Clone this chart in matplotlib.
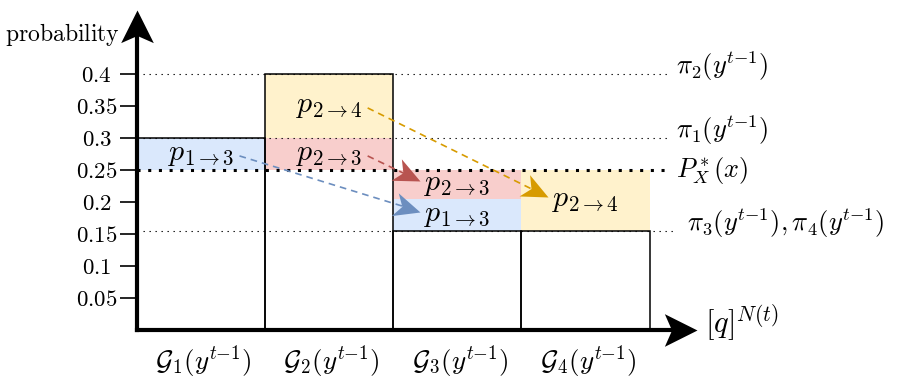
import matplotlib
matplotlib.use("Agg")
import matplotlib.pyplot as plt
import numpy as np
from matplotlib.path import Path
from matplotlib.markers import MarkerStyle
from matplotlib.transforms import Affine2D

plt.rcParams['mathtext.fontset'] = 'cm'
plt.rcParams['font.family'] = ['DejaVu Serif']

# groups of the partition and their prior mass pi_i(y^{t-1})
groups = [r'$\mathcal{G}_1(y^{t{-}1})$', r'$\mathcal{G}_2(y^{t{-}1})$',
          r'$\mathcal{G}_3(y^{t{-}1})$', r'$\mathcal{G}_4(y^{t{-}1})$']
group_heights = [0.3, 0.4, 0.155, 0.155]
level_values = [0.4, 0.3, 0.155]
level_labels = [r'$\pi_2(y^{t{-}1})$', r'$\pi_1(y^{t{-}1})$',
                r'$\pi_3(y^{t{-}1}), \pi_4(y^{t{-}1})$']
p_star = 0.25
p_star_label = r'$P^*_X(x)$'

# moved probability mass segments
seg_bar = [0, 1, 1, 2, 2, 3]
seg_low = [0.25, 0.3, 0.25, 0.205, 0.155, 0.155]
seg_high = [0.3, 0.4, 0.3, 0.25, 0.205, 0.25]
seg_color = ['#dae8fc', '#fff2cc', '#f8cecc', '#f8cecc', '#dae8fc', '#fff2cc']
seg_label = [r'$p_{1\to3}$', r'$p_{2\to4}$', r'$p_{2\to3}$',
             r'$p_{2\to3}$', r'$p_{1\to3}$', r'$p_{2\to4}$']

# flows: source segment -> destination segment
flow_src = [0, 2, 1]
flow_dst = [4, 3, 5]
flow_color = ['#6c8ebf', '#b85450', '#d79b00']

yticks = [0.05, 0.1, 0.15, 0.2, 0.25, 0.3, 0.35, 0.4]

fig = plt.figure(figsize=(9, 3.81), dpi=100)
ax = fig.add_axes([137 / 900, 51 / 381, 583 / 900, 320 / 381])
ax.set_xlim(0, 4.55)
ax.set_ylim(0, 0.5)
for s in ax.spines.values():
    s.set_visible(False)
ax.set_xticks([])
ax.set_yticks(yticks, labels=[f'${v:g}$' for v in yticks])
ax.tick_params(axis='y', length=12.5, width=1.2, pad=16.5, labelsize=16.5)
plt.setp(ax.get_yticklabels(), ha='center')

x = np.arange(len(groups)) + 0.5
seg_x = np.array(seg_bar) + 0.5
seg_mid = (np.array(seg_low) + np.array(seg_high)) / 2

# coloured mass segments
ax.bar(seg_x, np.array(seg_high) - np.array(seg_low), bottom=seg_low, width=1,
       color=seg_color, linewidth=0, zorder=1)

# thin dotted reference levels
x_end = 4.16
for v in level_values:
    end = x_end if v != 0.155 else 4.18
    ax.plot([0, end], [v, v], color='black', lw=0.8, linestyle=(0, (1.2, 4.2)), zorder=2)

# bar outlines
ax.bar(x, group_heights, width=1, fill=False, edgecolor='black', linewidth=1.1, zorder=3)

# P* level
ax.plot([0, x_end], [p_star, p_star], color='black', lw=2.2,
        linestyle=(0, (1, 2.5)), zorder=4)

# labels on segments
for i in range(len(seg_bar)):
    ax.text(seg_x[i], seg_mid[i], seg_label[i], ha='center', va='center',
            fontsize=21.5, zorder=6)

# flow arrows: dashed shaft + concave head
head_path = Path([(0, 0), (-1, 0.45), (-0.72, 0), (-1, -0.45), (0, 0)],
                 [Path.MOVETO, Path.LINETO, Path.LINETO, Path.LINETO, Path.CLOSEPOLY])
for s, d, c in zip(flow_src, flow_dst, flow_color):
    start = (seg_bar[s] + 0.8, seg_mid[s] - 0.003)
    tip = (seg_bar[d] + 0.21, seg_mid[d] + 0.005)
    p0 = ax.transData.transform(start)
    p1 = ax.transData.transform(tip)
    vec = p1 - p0
    ang = np.degrees(np.arctan2(vec[1], vec[0]))
    stop = ax.transData.inverted().transform(p1 - vec / np.hypot(*vec) * 14)
    ax.plot([start[0], stop[0]], [start[1], stop[1]], color=c, lw=1.2,
            linestyle=(0, (4, 3)), zorder=5)
    ax.plot([tip[0]], [tip[1]], marker=MarkerStyle(head_path, transform=Affine2D().rotate_deg(ang)),
            ms=38, color=c, mew=0, zorder=5)

# axes with arrow heads
up = Path([(0, 0), (-0.5, -1), (0, -0.78), (0.5, -1), (0, 0)],
          [Path.MOVETO, Path.LINETO, Path.LINETO, Path.LINETO, Path.CLOSEPOLY])
right = Path([(0, 0), (-1, 0.5), (-0.78, 0), (-1, -0.5), (0, 0)],
             [Path.MOVETO, Path.LINETO, Path.LINETO, Path.LINETO, Path.CLOSEPOLY])
x_tip = 4.37
ax.plot([0, 0], [0, 0.47], color='black', lw=3, solid_capstyle='projecting',
        clip_on=False, zorder=7)
ax.plot([0, x_tip - 0.16], [0, 0], color='black', lw=3, solid_capstyle='projecting',
        clip_on=False, zorder=7)
ax.plot([0], [0.5], marker=up, ms=47, color='black', mew=0, clip_on=False, zorder=8)
ax.plot([x_tip], [0], marker=right, ms=47, color='black', mew=0, clip_on=False, zorder=8)

# axis texts
ax.text(-0.13, 0.462, r'$\mathrm{probability}$', ha='right', va='center', fontsize=17)
ax.text(x_tip + 0.06, 0.012, r'$[q]^{N(t)}$', ha='left', va='center', fontsize=22,
        clip_on=False)
for xi, g in zip(x, groups):
    ax.text(xi + 0.02, -0.05, g, ha='center', va='center', fontsize=19.5, clip_on=False)

# level labels on the right
for v, lab in zip(level_values, level_labels):
    xl = 4.21 if v != 0.155 else 4.29
    ax.text(xl, v, lab, ha='left', va='baseline', fontsize=19, clip_on=False)
ax.text(4.21, p_star, p_star_label, ha='left', va='center', fontsize=19, clip_on=False)

fig.savefig('out.png', dpi=100)
